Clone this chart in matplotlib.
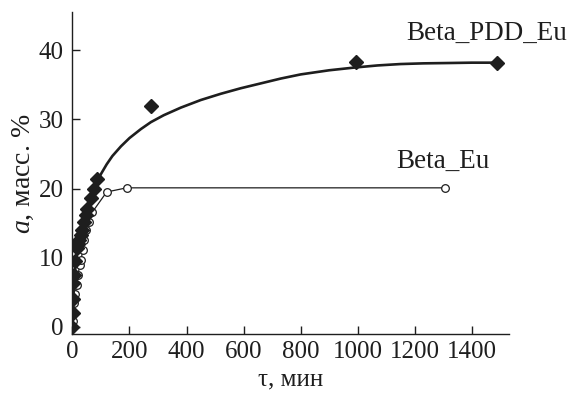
#!/usr/bin/env python3
"""Sorption kinetics: Beta_PDD_Eu vs Beta_Eu, a (mass %) against time."""

import matplotlib
matplotlib.use("Agg")
import matplotlib.pyplot as plt

# Beta_PDD_Eu experimental points (diamonds)
t_pdd = [0, 1, 2, 3, 6, 10, 15, 20, 23, 30, 35, 41, 47, 52, 64, 76, 87, 277, 994, 1488]
a_pdd = [0, 2.0, 4.0, 6.3, 7.5, 9.5, 11.4, 12.0, 12.5, 13.3, 14.0, 15.2, 16.1, 17.1,
         18.6, 20.0, 21.4, 31.9, 38.3, 38.2]

# Fitted curve for Beta_PDD_Eu
t_fit = [0, 3, 6, 10, 15, 20, 30, 40, 50, 60, 70, 80, 90, 100, 120, 140, 170, 200,
         240, 275, 320, 380, 450, 520, 590, 660, 730, 800, 900, 990, 1070, 1150,
         1230, 1320, 1400, 1490]
a_fit = [0, 4.0, 6.5, 8.8, 10.8, 12.3, 14.4, 16.0, 17.3, 18.5, 19.5, 20.4, 21.3,
         22.1, 23.5, 24.7, 26.1, 27.3, 28.6, 29.6, 30.6, 31.7, 32.8, 33.7, 34.5,
         35.2, 35.9, 36.5, 37.1, 37.5, 37.8, 38.0, 38.1, 38.15, 38.2, 38.2]

# Beta_Eu points (open circles, joined)
t_eu = [0, 1, 3, 6, 10, 15, 20, 25, 30, 36, 42, 48, 58, 70, 120, 190, 1305]
a_eu = [0, 0.8, 2.0, 3.4, 4.8, 6.0, 7.5, 8.9, 9.6, 11.1, 12.5, 14.0, 15.2, 16.6,
        19.5, 20.1, 20.1]

x_ticks = [0, 200, 400, 600, 800, 1000, 1200, 1400]
y_ticks = [0, 10, 20, 30, 40]


def main() -> None:
    plt.rcParams["font.family"] = ["Liberation Serif", "DejaVu Serif"]
    plt.rcParams["mathtext.fontset"] = "custom"
    plt.rcParams["mathtext.it"] = "Liberation Serif:italic"
    plt.rcParams["mathtext.rm"] = "Liberation Serif"

    fig = plt.figure(figsize=(5.75, 3.93), dpi=100)
    ax = fig.add_axes([0.125, 0.149, 0.76, 0.82])
    ink = "#1e1e1e"

    ax.plot(t_eu, a_eu, "-o", color=ink, lw=0.9, ms=5.5, mfc="white", mec=ink, mew=0.9)
    ax.plot(t_fit, a_fit, "-", color=ink, lw=1.9)
    ax.plot(t_pdd, a_pdd, "D", color=ink, ms=6.8, ls="none")

    ax.text(1172, 42.4, "Beta_PDD_Eu", fontsize=19.5, color=ink, ha="left", va="center")
    ax.text(1134, 23.9, "Beta_Eu", fontsize=19.5, color=ink, ha="left", va="center")

    ax.set_xlim(-2, 1530)
    ax.set_ylim(-1.1, 45.5)
    ax.set_xticks(x_ticks)
    ax.set_yticks(y_ticks)
    for s in ("top", "right"):
        ax.spines[s].set_visible(False)
    for s in ("left", "bottom"):
        ax.spines[s].set_color(ink)
        ax.spines[s].set_linewidth(1.0)
    ax.tick_params(direction="in", length=6, width=1.0, colors=ink, labelsize=18)
    ax.tick_params(axis="x", pad=5)
    ax.tick_params(axis="y", pad=6)

    ax.set_xlabel("τ, мин", fontsize=18, color=ink, labelpad=4)
    ax.set_ylabel("$a$, масс. $\\mathit{\\%}$", fontsize=20, color=ink, labelpad=2)

    fig.savefig("out.png", dpi=100)


if __name__ == "__main__":
    main()
